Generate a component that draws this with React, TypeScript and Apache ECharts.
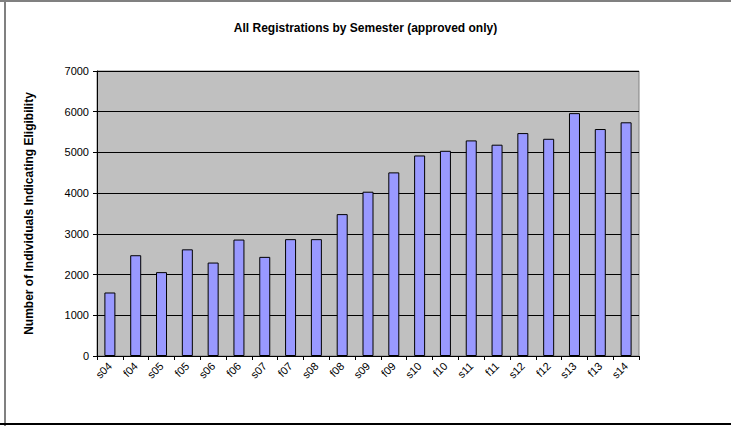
import React, { useEffect, useRef } from "react";
import * as echarts from "echarts";

const categories = ["s04","f04","s05","f05","s06","f06","s07","f07","s08","f08","s09","f09","s10","f10","s11","f11","s12","f12","s13","f13","s14"];
const registrations = [1560,2475,2060,2620,2295,2860,2435,2870,2870,3485,4035,4510,4925,5040,5295,5190,5475,5335,5965,5575,5740];
const yTicks = { min: 0, max: 7000, interval: 1000 };
const titleText = "All Registrations by Semester (approved only)";
const yAxisTitle = "Number of Individuals Indicating Eligibility";

export default function App() {
  const ref = useRef<HTMLDivElement>(null);
  useEffect(() => {
    if (!ref.current) return;
    const chart = echarts.init(ref.current, null, { renderer: "svg" });
    const font = "Arial, 'Liberation Sans', sans-serif";
    chart.setOption({
      animation: false,
      backgroundColor: "#ffffff",
      title: {
        text: titleText,
        left: "center",
        top: 17,
        textStyle: { fontSize: 12, fontWeight: "bold", color: "#000", fontFamily: font },
      },
      grid: {
        left: 97,
        right: 92,
        top: 71,
        bottom: 70,
        show: true,
        backgroundColor: "#C0C0C0",
        borderColor: "#808080",
        borderWidth: 1,
      },
      xAxis: {
        type: "category",
        data: categories,
        axisLine: { lineStyle: { color: "#000", width: 1 } },
        axisTick: { show: true, interval: 0, length: 4, lineStyle: { color: "#000" } },
        axisLabel: {
          interval: 0,
          rotate: 45,
          fontSize: 11,
          color: "#000",
          margin: 8,
          fontFamily: font,
        },
      },
      yAxis: {
        type: "value",
        min: yTicks.min,
        max: yTicks.max,
        interval: yTicks.interval,
        name: yAxisTitle,
        nameLocation: "middle",
        nameGap: 62,
        nameRotate: 90,
        nameTextStyle: { fontSize: 12, fontWeight: "bold", color: "#000", fontFamily: font },
        axisLine: { show: true, lineStyle: { color: "#000", width: 1 } },
        axisTick: { show: true, length: 4, lineStyle: { color: "#000" } },
        axisLabel: {
          fontSize: 11,
          color: "#000",
          margin: 8,
          fontFamily: font,
          formatter: (v: number) => String(v),
        },
        splitLine: { show: true, lineStyle: { color: "#000", width: 1 } },
      },
      series: [
        {
          type: "bar",
          data: registrations,
          barWidth: 11,
          itemStyle: { color: "#9999FF", borderColor: "#000", borderWidth: 1 },
        },
      ],
      graphic: [
        { type: "rect", shape: { x: 0, y: 0, width: 731, height: 2 }, style: { fill: "#808080" }, silent: true },
        { type: "rect", shape: { x: 4, y: 0, width: 2, height: 426 }, style: { fill: "#808080" }, silent: true },
        { type: "rect", shape: { x: 0, y: 423, width: 731, height: 2 }, style: { fill: "#000" }, silent: true },
      ],
    });
    return () => chart.dispose();
  }, []);
  return (
    <div
      ref={ref}
      style={{ position: "fixed", left: 0, top: 0, width: 731, height: 426 }}
    />
  );
}
